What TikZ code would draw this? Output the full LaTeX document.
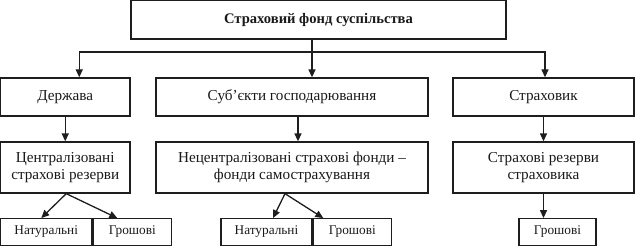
\documentclass[tikz,border=0pt]{standalone}
\usepackage{fontspec}
\setmainfont{Liberation Serif}
\usetikzlibrary{arrows.meta, positioning}
\definecolor{fondline}{RGB}{30,30,30}
\definecolor{fondtext}{RGB}{25,25,25}

\begin{document}
\begin{tikzpicture}[
            x=1pt, y=-1pt,
            font=\fontsize{15.2}{16.5}\selectfont,
            box/.style={rectangle, draw=fondline, line width=1.3pt, text=fondtext, align=center, inner sep=0pt},
            leaf/.style={box, font=\fontsize{13.3}{15}\selectfont, minimum height=26.5pt},
            arr/.style={-{Triangle[length=8pt, width=7pt]}, line width=1.3pt, fondline}
        ]
            \useasboundingbox (0,0) rectangle (635,246);
            \node[box, font=\bfseries\fontsize{14.6}{16}\selectfont, minimum width=375pt, minimum height=38.5pt] (fond) at (318.5,19.75) {Страховий фонд суспільства};
            \node[box, minimum width=129.5pt, minimum height=38pt] (derzh) at (65.25,97) {Держава};
            \node[box, minimum width=272pt, minimum height=38pt] (subj) at (292,97) {Суб'єкти господарювання};
            \node[box, minimum width=181pt, minimum height=38pt] (strah) at (543.5,97) {Страховик};
            \node[box, minimum width=129.5pt, minimum height=51pt] (centr) at (65.25,167.5) {Централізовані\\страхові резерви};
            \node[box, minimum width=272pt, minimum height=51pt] (necentr) at (292,167.5) {Нецентралізовані страхові фонди –\\фонди самострахування};
            \node[box, minimum width=181pt, minimum height=51pt] (rez) at (543.5,167.5) {Страхові резерви\\страховика};
            \node[leaf, minimum width=91.5pt] (nat1) at (46.25,232) {Натуральні};
            \node[leaf, minimum width=78pt, right=0pt of nat1] (gr1) {Грошові};
            \node[leaf, minimum width=91pt] (nat2) at (266.5,232) {Натуральні};
            \node[leaf, minimum width=78pt, right=0pt of nat2] (gr2) {Грошові};
            \node[leaf, minimum width=77pt] (gr3) at (557.5,232) {Грошові};
            \coordinate (bus) at (312,52);
            \draw[line width=1.3pt, fondline] (fond.south -| bus) -- (bus);
            \draw[arr] (bus) -| ([xshift=14pt]derzh.north);
            \draw[arr] (bus) -- (bus |- subj.north);
            \draw[arr] (bus) -| ([xshift=1.5pt]strah.north);
            \draw[arr] (derzh.south) -- (centr.north);
            \draw[arr] ([xshift=6pt]subj.south) -- ([xshift=6pt]necentr.north);
            \draw[arr] (strah.south) -- (rez.north);
            \draw[arr] ([xshift=1pt]centr.south) -- ([xshift=-5pt]nat1.north);
            \draw[arr] ([xshift=1pt]centr.south) -- ([xshift=-15pt]gr1.north);
            \draw[arr] ([xshift=-7pt]necentr.south) -- ([xshift=6.5pt]nat2.north);
            \draw[arr] ([xshift=-7pt]necentr.south) -- ([xshift=-29pt]gr2.north);
            \draw[arr] (rez.south) -- (rez.south |- gr3.north);
        \end{tikzpicture}
\end{document}
